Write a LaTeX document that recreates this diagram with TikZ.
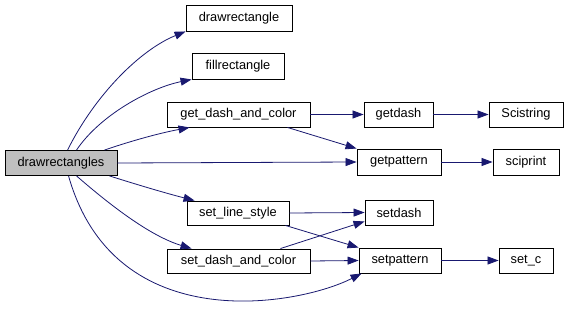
\documentclass[tikz,border=0pt]{standalone}
\usepackage{fontspec}
\setmainfont{Liberation Sans}
\usetikzlibrary{arrows.meta,calc}
\definecolor{edgeblue}{HTML}{191970}
\begin{document}
\begin{tikzpicture}[x=1pt,y=-1pt,
  fn/.style={draw=black,line width=0.9pt,fill=white,rectangle,inner sep=0pt,
    font=\fontsize{12.8}{15}\selectfont,text=black},
  call/.style={draw=edgeblue,line width=0.8pt,
    -{Triangle[length=11pt,width=8pt]},color=edgeblue}]
\useasboundingbox (0,0) rectangle (567,315);
\fill[white] (0,0) rectangle (567,315);
% nodes
\node[fn,fill={rgb,255:red,191;green,191;blue,191},minimum width=112pt,minimum height=25pt] (drs) at (61,163) {drawrectangles};
\node[fn,minimum width=106pt,minimum height=26pt] (drr) at (239,18) {drawrectangle};
\node[fn,minimum width=92pt,minimum height=26pt] (fr) at (238,66) {fillrectangle};
\node[fn,minimum width=143pt,minimum height=25pt] (gdc) at (238.5,114.5) {get\_dash\_and\_color};
\node[fn,minimum width=102pt,minimum height=24pt] (sls) at (238,213) {set\_line\_style};
\node[fn,minimum width=143pt,minimum height=24pt] (sdc) at (238.5,261) {set\_dash\_and\_color};
\node[fn,minimum width=69pt,minimum height=25pt] (gd) at (398.5,114.5) {getdash};
\node[fn,minimum width=74pt,minimum height=25pt] (scs) at (526,114.5) {Scistring};
\node[fn,minimum width=84pt,minimum height=26pt] (gp) at (399,162) {getpattern};
\node[fn,minimum width=66pt,minimum height=26pt] (sci) at (526,162) {sciprint};
\node[fn,minimum width=68pt,minimum height=25pt] (sd) at (399,212.5) {setdash};
\node[fn,minimum width=82pt,minimum height=25pt] (sp) at (400,260.5) {setpattern};
\node[fn,minimum width=54pt,minimum height=25pt] (sc) at (526,260.5) {set\_c};
% edges from drawrectangles
\draw[call] ($(drs.north west)+(63,0)$) .. controls (95,95) and (140,50) .. (drr.south west);
\draw[call] ($(drs.north west)+(72,0)$) .. controls (100,115) and (150,88) .. (fr.south west);
\draw[call] ($(drs.north west)+(100,0)$) .. controls (125,143) and (155,134) .. ($(gdc.south west)+(23,0)$);
\draw[call] (drs.east) -- (gp.west);
\draw[call] ($(drs.south west)+(105,0)$) .. controls (135,184) and (165,193) .. ($(sls.north west)+(8,0)$);
\draw[call] ($(drs.south west)+(72,0)$) .. controls (110,205) and (150,236) .. ($(sdc.north west)+(25,0)$);
\draw[call] ($(drs.south west)+(64,0)$) .. controls (115,340) and (300,305) .. ($(sp.south west)+(3,0)$);
% other edges
\draw[call] (gdc.east) -- (gd.west);
\draw[call] ($(gdc.south east)+(-23,0)$) -- (gp.north west);
\draw[call] (gd.east) -- (scs.west);
\draw[call] (gp.east) -- (sci.west);
\draw[call] (sls.east) -- (sd.west);
\draw[call] ($(sls.south east)+(-4,0)$) -- (sp.north west);
\draw[call] ($(sdc.north east)+(-30,0)$) -- ($(sd.south west)+(0,-4)$);
\draw[call] (sdc.east) -- (sp.west);
\draw[call] (sp.east) -- (sc.west);
\end{tikzpicture}
\end{document}
